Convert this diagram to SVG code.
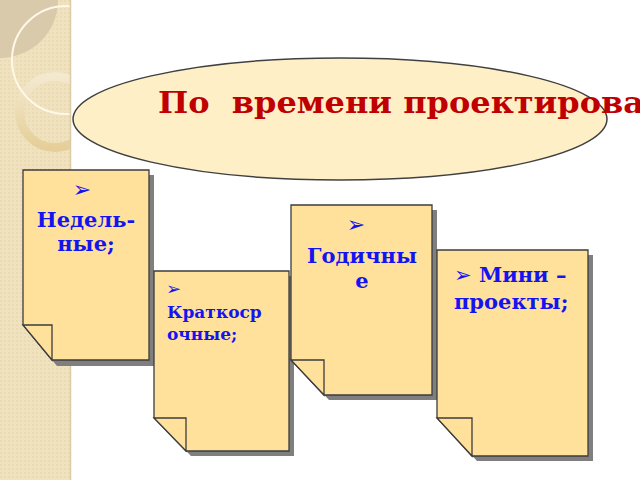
<svg xmlns="http://www.w3.org/2000/svg" width="640" height="480" viewBox="0 0 640 480">
<defs>
<style>
.note{fill:#FFE19B;stroke:#3C3C3C;stroke-width:1.3;stroke-linejoin:miter}
.shadow{fill:#7F7F7F}
.t{font-family:"DejaVu Serif","Liberation Serif",serif;font-weight:bold;fill:#1414F0}
.b{font-family:"DejaVu Sans","Noto Sans",sans-serif;fill:#1414F0}
</style>
<pattern id="tex" width="4" height="4" patternUnits="userSpaceOnUse">
<rect width="4" height="4" fill="#F0E2BE"/>
<rect width="2" height="2" fill="#EBDBB3"/>
</pattern>
<linearGradient id="ringg" x1="0" y1="0" x2="0" y2="1">
<stop offset="0" stop-color="#F4EAD2"/>
<stop offset="1" stop-color="#E4CC94"/>
</linearGradient>
<clipPath id="strip"><rect x="0" y="0" width="70" height="480"/></clipPath>
</defs>
<rect width="640" height="480" fill="#FFFFFF"/>
<g id="decor">
<rect x="0" y="0" width="70" height="480" fill="url(#tex)"/>
<g clip-path="url(#strip)">
<circle cx="0" cy="0" r="58" fill="#D6C8A8" opacity="0.9"/>
<circle cx="55" cy="112" r="35.5" fill="none" stroke="url(#ringg)" stroke-width="9" opacity="0.9"/>
<circle cx="66" cy="60" r="54" fill="none" stroke="#FFF8E8" stroke-width="2"/>
</g>
<line x1="70.5" y1="0" x2="70.5" y2="480" stroke="#D9CBA8" stroke-width="1.5"/>
</g>
<g id="title">
<ellipse cx="340" cy="119" rx="267" ry="61" fill="#FFEFC7" stroke="#404040" stroke-width="1.5"/>
<text x="158" y="113" xml:space="preserve" textLength="486" lengthAdjust="spacingAndGlyphs" font-family="DejaVu Serif, Liberation Serif, serif" font-weight="bold" font-size="29" fill="#C00000">По  времени проектирова</text>
</g>
<g id="node-weekly">
<path class="shadow" d="M28,175 H154 V366 H57 L28,331 Z"/>
<path class="note" d="M23,170 H149 V360 H52 L23,325 Z"/>
<path class="note" d="M23,325 H52 V360 Z"/>
<text class="b" x="82" y="197" font-size="22" text-anchor="middle">➢</text>
<text class="t" x="86" y="227" font-size="21" text-anchor="middle">Недель-</text>
<text class="t" x="86" y="251" font-size="21" text-anchor="middle">ные;</text>
</g>
<g id="node-short">
<path class="shadow" d="M159,276 H294 V456 H191 L159,423 Z"/>
<path class="note" d="M154,271 H289 V451 H186 L154,418 Z"/>
<path class="note" d="M154,418 H186 V451 Z"/>
<text class="b" x="166" y="295" font-size="18">➢</text>
<text class="t" x="167" y="318" font-size="17">Краткоср</text>
<text class="t" x="167" y="340" font-size="17">очные;</text>
</g>
<g id="node-yearly">
<path class="shadow" d="M296,210 H437 V400 H329 L296,365 Z"/>
<path class="note" d="M291,205 H432 V395 H324 L291,360 Z"/>
<path class="note" d="M291,360 H324 V395 Z"/>
<text class="b" x="356" y="232" font-size="22" text-anchor="middle">➢</text>
<text class="t" x="362" y="263" font-size="21" text-anchor="middle">Годичны</text>
<text class="t" x="362" y="288" font-size="21" text-anchor="middle">е</text>
</g>
<g id="node-mini">
<path class="shadow" d="M442,255 H593 V461 H477 L442,423 Z"/>
<path class="note" d="M437,250 H588 V456 H472 L437,418 Z"/>
<path class="note" d="M437,418 H472 V456 Z"/>
<text x="454" y="282" xml:space="preserve"><tspan class="b" font-size="21">➢</tspan><tspan class="t" font-size="21"> Мини –</tspan></text>
<text class="t" x="454" y="309" font-size="21">проекты;</text>
</g>
<g id="connectors"/>
</svg>
